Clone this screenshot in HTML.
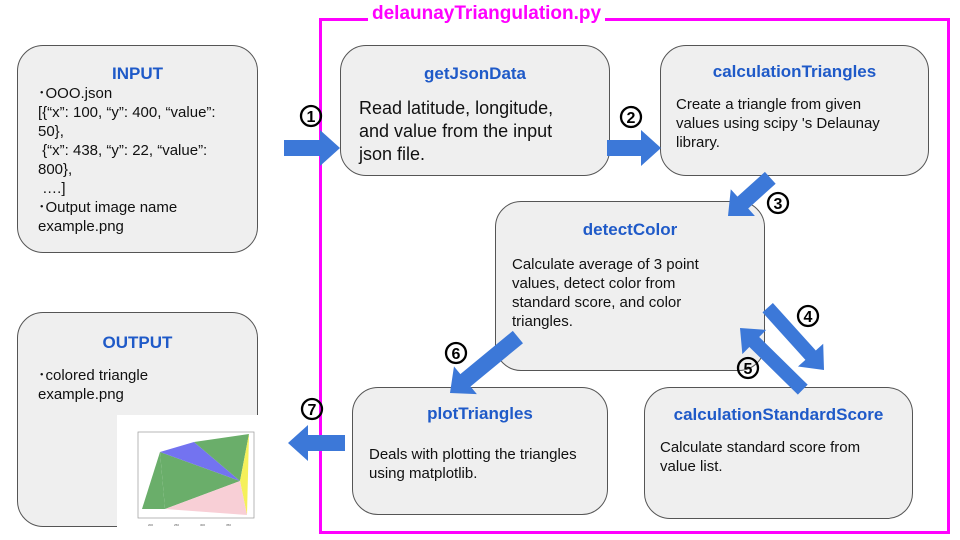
<!DOCTYPE html>
<html><head><meta charset="utf-8"><style>
body{margin:0;width:960px;height:540px;background:#fff;position:relative;overflow:hidden;font-family:"Liberation Sans","Noto Sans CJK JP",sans-serif;}
.box{position:absolute;background:#efefef;border:1px solid #555;border-radius:26px;box-sizing:border-box;color:#111;}
.t{color:#1f5ac8;font-weight:bold;text-align:center;font-size:17px;}
.frame{position:absolute;left:319px;top:18px;width:631px;height:516px;border:3px solid #f0f;box-sizing:border-box;}
.title{position:absolute;left:368px;top:3px;padding:0 4px;background:#fff;color:#f0f;font-weight:bold;font-size:19px;}
</style></head><body>
<div class="frame"></div>
<div class="title">delaunayTriangulation.py</div>

<div class="box" style="left:17px;top:45px;width:241px;height:208px;padding:18px 0 0 20px;font-size:15px;line-height:19px;">
<div class="t" style="margin-left:-20px;font-size:17px;margin-bottom:1px">INPUT</div>
･OOO.json<br>[{“x”: 100, “y”: 400, “value”:<br>50},<br>&nbsp;{“x”: 438, “y”: 22, “value”:<br>800},<br>&nbsp;….]<br>･Output image name<br>example.png</div>

<div class="box" style="left:17px;top:312px;width:241px;height:215px;padding:20px 0 0 20px;font-size:15px;line-height:19px;">
<div class="t" style="margin-left:-20px;margin-bottom:14px">OUTPUT</div>
･colored triangle<br>example.png</div>

<div class="box" style="left:340px;top:45px;width:270px;height:131px;padding:16px 0 0 18px;font-size:18px;line-height:23px;">
<div class="t" style="margin-left:-18px;margin-bottom:12px">getJsonData</div>
Read latitude, longitude,<br>and value from the input<br>json file.</div>

<div class="box" style="left:660px;top:45px;width:269px;height:131px;padding:16px 0 0 15px;font-size:15px;line-height:19px;">
<div class="t" style="margin-left:-15px;margin-bottom:14px">calculationTriangles</div>
Create a triangle from given<br>values using scipy 's Delaunay<br>library.</div>

<div class="box" style="left:495px;top:201px;width:270px;height:170px;padding:18px 0 0 16px;font-size:15px;line-height:19px;">
<div class="t" style="margin-left:-16px;margin-bottom:16px">detectColor</div>
Calculate average of 3 point<br>values, detect color from<br>standard score, and color<br>triangles.</div>

<div class="box" style="left:352px;top:387px;width:256px;height:128px;padding:16px 0 0 16px;font-size:15px;line-height:19px;">
<div class="t" style="margin-left:-16px;margin-bottom:22px">plotTriangles</div>
Deals with plotting the triangles<br>using matplotlib.</div>

<div class="box" style="left:644px;top:387px;width:269px;height:132px;padding:17px 0 0 15px;font-size:15px;line-height:19px;">
<div class="t" style="margin-left:-15px;margin-bottom:14px">calculationStandardScore</div>
Calculate standard score from<br>value list.</div>

<svg style="position:absolute;left:0;top:0" width="960" height="540">
<g fill="#3c78d8">
<g transform="translate(340,148)"><polygon points="-56,-8 -20,-8 -20,-18 0,0 -20,18 -20,8 -56,8"/></g>
<g transform="translate(661,148)"><polygon points="-54,-8 -20,-8 -20,-18 0,0 -20,18 -20,8 -54,8"/></g>
<g transform="translate(728,216) rotate(137.9)"><polygon points="-57,-8 -20,-8 -20,-18 0,0 -20,18 -20,8 -57,8"/></g>
<g transform="translate(824,370) rotate(47.9)"><polygon points="-84,-7 -20,-7 -20,-17 0,0 -20,17 -20,7 -84,7"/></g>
<g transform="translate(740,328) rotate(224.5)"><polygon points="-88,-7 -20,-7 -20,-17 0,0 -20,17 -20,7 -88,7"/></g>
<g transform="translate(450,393) rotate(140.5)"><polygon points="-88,-8 -20,-8 -20,-18 0,0 -20,18 -20,8 -88,8"/></g>
<g transform="translate(288,443) rotate(180)"><polygon points="-57,-8 -20,-8 -20,-18 0,0 -20,18 -20,8 -57,8"/></g>
</g>
<rect x="117" y="415" width="142" height="125" fill="#fff"/>
<rect x="138" y="432" width="116" height="86" fill="none" stroke="#999" stroke-width="0.7"/>
<polygon points="142,509 160,452 165,509" fill="#6aae6a"/>
<polygon points="160,452 165,509 240,481" fill="#6aae6a"/>
<polygon points="160,452 194,442 240,481" fill="#7373f0"/>
<polygon points="194,442 249,434 240,481" fill="#6aae6a"/>
<polygon points="240,481 249,434 247,515" fill="#f5f05a"/>
<polygon points="165,509 240,481 247,515" fill="#f8cfd6"/>
<g font-size="3" fill="#555"><text x="148" y="526">200</text><text x="174" y="526">250</text><text x="200" y="526">300</text><text x="226" y="526">350</text></g>
<g fill="none" stroke="#000" stroke-width="2.3">
<circle cx="311" cy="116" r="10"/><circle cx="631" cy="117" r="10"/><circle cx="778" cy="203" r="10"/>
<circle cx="808" cy="316" r="10"/><circle cx="748" cy="368" r="10"/><circle cx="456" cy="353" r="10"/><circle cx="312" cy="409" r="10"/>
</g>
<g font-family="Liberation Sans" font-weight="bold" font-size="16" text-anchor="middle" fill="#000">
<text x="311" y="122">1</text><text x="631" y="123">2</text><text x="778" y="209">3</text>
<text x="808" y="322">4</text><text x="748" y="374">5</text><text x="456" y="359">6</text><text x="312" y="415">7</text>
</g>
</svg>
</body></html>
